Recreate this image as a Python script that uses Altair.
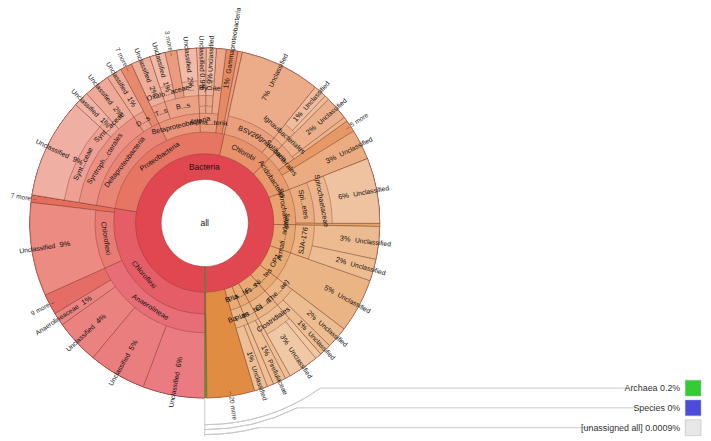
import math
import colorsys
import altair as alt
import pandas as pd

# ---------------- data (percent of all reads; None = inner node) ----------------
TOP = [
    ("bac", "all", "Bacteria", None),
    ("arc", "all", "Archaea", 0.2),
]
CHLOROFLEXI = [
    ("chl", "bac", "Chloroflexi", None),
    ("ana", "chl", "Anaerolineae", None),
    ("ana_u1", "ana", "Unclassified", 5.7),
    ("ana_u2", "ana", "Unclassified", 5.3),
    ("ana_u3", "ana", "Unclassified", 4.1),
    ("ana_f", "ana", "Anaerolineaceae", 1.2),
    ("ana_m", "ana", "9 more", 1.9),
    ("chc", "chl", "Chloroflexi", None),
    ("chc_u", "chc", "Unclassified", 8.6),
    ("chl_m", "chl", "7 more", 0.7),
]
PROTEOBACTERIA = [
    ("pro", "bac", "Proteobacteria", None),
    ("del", "pro", "Deltaproteobacteria", None),
    ("syo", "del", "Syntroph...cterales", None),
    ("syf", "syo", "Synt...ceae", None),
    ("syf_u", "syf", "Unclassified", 9.2),
    ("syr", "syo", "Synt...aceae", None),
    ("syr_u", "syr", "Unclassified", 1.4),
    ("syo_u", "syo", "Unclassified", 2.4),
    ("dss", "del", "D...s", None),
    ("dss_u", "dss", "Unclassified", 1.4),
    ("del_m", "del", "7 more", 1.1),
    ("bet", "pro", "Betaproteobacteria", None),
    ("tss", "bet", "T...s", None),
    ("tss_u", "tss", "Unclassified", 1.8),
    ("bss", "bet", "B...s", None),
    ("oxa", "bss", "Oxalo...aceae", None),
    ("oxa_u", "oxa", "Unclassified", 1.4),
    ("bss_m", "bss", "3 more", 1.1),
    ("bdd", "bss", "...", None),
    ("bdd_u", "bdd", "Unclassified", 1.8),
    ("alp", "pro", "Alpha...teria", None),
    ("add", "alp", "...", None),
    ("add_u", "add", "Unclassified", 0.9),
    ("hyo", "alp", "...", None),
    ("hyf", "hyo", "Hy...ae", None),
    ("hyf_u", "hyf", "Unclassified", 0.9),
    ("alp_s", "alp", "", 0.9),
    ("gam", "pro", "Gammaproteobacteria", 1.1),
    ("pro_s", "pro", "", 0.4),
]
CHLOROBI = [
    ("cbi", "bac", "Chlorobi", None),
    ("bsv", "cbi", "BSV26", None),
    ("bsv_u", "bsv", "Unclassified", 7.4),
    ("ign", "cbi", "Ignav...teria", None),
    ("igo", "ign", "Ignavibacteriales", None),
    ("igo_u", "igo", "Unclassified", 1.2),
    ("igo_s", "igo", "", 0.4),
]
ACIDOBACTERIA = [
    ("aci", "bac", "Acidobacteria", None),
    ("sol", "aci", "Solibacterales", None),
    ("sol_u", "sol", "Unclassified", 2.2),
    ("sol_s", "sol", "", 0.4),
    ("aci_m", "aci", "5 more", 1.1),
    ("aci_u", "aci", "Unclassified", 2.8),
]
SPIROCHAETES = [
    ("spi", "bac", "Spirochaetes", None),
    ("spc", "spi", "Spi...etes", None),
    ("spf", "spc", "Spirochaetaceae", None),
    ("spf_u", "spf", "Unclassified", 6.0),
    ("spi_s", "spi", "", 0.3),
]
ARMATIMONADETES = [
    ("arm", "bac", "Armati...adetes", None),
    ("sja", "arm", "SJA-176", None),
    ("sja_u1", "sja", "Unclassified", 3.0),
    ("sja_u2", "sja", "Unclassified", 2.0),
]
OP1 = [
    ("op1", "bac", "OP1", None),
    ("op1_u", "op1", "Unclassified", 5.0),
]
NITROSPIRAE = [
    ("nit", "bac", "Ni...tes", None),
    ("the", "nit", "The...ae)", None),
    ("the_u1", "the", "Unclassified", 2.0),
    ("the_u2", "the", "Unclassified", 1.1),
]
FIRMICUTES = [
    ("fir", "bac", "F...s", None),
    ("cla", "fir", "Cl...a", None),
    ("clo", "cla", "Clostridiales", None),
    ("clo_s", "clo", "", 0.6),
    ("clo_u", "clo", "Unclassified", 2.8),
]
PLANCTOMYCETES = [
    ("pla", "bac", "Pla...tes", None),
    ("plc", "pla", "Plan...tes", None),
    ("plc_s", "plc", "", 0.5),
    ("pir", "plc", "Pirellulaceae", 1.2),
]
BACTEROIDETES = [
    ("bct", "bac", "B...s", None),
    ("bcc", "bct", "Ba...es", None),
    ("bcc_s", "bcc", "", 0.6),
    ("bcc_u", "bcc", "Unclassified", 1.2),
]
OTHERS = [
    ("more20", "bac", "20 more", 4.4),
]
HATCHED = ["ana_m", "chl_m", "del_m", "bss_m", "gam", "aci_m", "spi_s", "more20"]

KEY_NAMES = ["Archaea", "Species", "[unassigned all]"]
KEY_PCTS = ["0.2%", "0%", "0.0009%"]
KEY_COLORS = ["#33cc33", "#4b4bdc", "#e8e8e8"]

# ---------------- geometry / style constants ----------------
START = 180.0
RING = [0, 44, 70, 92, 111, 129, 144, 158, 170]
OUTER = 177
CX, CY = 199, 215
W, H = 2 * CX, 2 * CY
FONT = "Liberation Sans"
LIGHT = {1: 0.58, 2: 0.63, 3: 0.67, 4: 0.70, 5: 0.74, 6: 0.77, 7: 0.80}

TREE = (TOP + CHLOROFLEXI + PROTEOBACTERIA + CHLOROBI + ACIDOBACTERIA + SPIROCHAETES
        + ARMATIMONADETES + OP1 + NITROSPIRAE + FIRMICUTES + PLANCTOMYCETES
        + BACTEROIDETES + OTHERS)

children, info = {}, {}
for nid, par, lab, val in TREE:
    children.setdefault(par, []).append(nid)
    info[nid] = (par, lab, val)


def total(n):
    if n in info and info[n][2] is not None:
        return info[n][2]
    return sum(total(c) for c in children.get(n, []))


GRAND = total("all")
rows = []


def layout(n, a0, depth):
    a = a0
    for c in children.get(n, []):
        span = total(c) / GRAND * 360.0
        rows.append(dict(id=c, depth=depth, t0=a, t1=a + span, label=info[c][1],
                         leaf=info[c][2] is not None, pct=total(c)))
        layout(c, a, depth + 1)
        a += span


layout("all", START, 1)


def hexcol(h, l, s):
    r, g, b = colorsys.hls_to_rgb((h % 360) / 360.0, max(0, min(1, l)), s)
    return "#%02x%02x%02x" % (round(r * 255), round(g * 255), round(b * 255))


for r in rows:
    ang = (r["t0"] + r["t1"]) / 2 if r["leaf"] else r["t0"] + 0.5
    t = min(max((ang - START) / 360.0, 0), 1)
    hue = -4 + min(t / 0.75, 1) * 32
    L = LIGHT[r["depth"]] + 0.06 * t
    if r["id"] in HATCHED:
        L -= 0.12 if r["id"] == "more20" else 0.06
    r["color"] = "#33cc33" if r["id"] == "arc" else hexcol(hue, L, 0.72)
    r["r0"] = RING[r["depth"]]
    r["r1"] = OUTER

arcs_df = pd.DataFrame(rows).sort_values("depth", kind="stable")


def pct_text(p):
    return f"{round(p)}%" if p >= 0.95 else f"{p:.1g}%"


inner, top_lbl, pcts, name_r, name_l, more_r, more_l = [], [], [], [], [], [], []
top_lbl.append(dict(th=0, r=0, ang=0, text="all"))
for r in rows:
    mid = (r["t0"] + r["t1"]) / 2
    m = mid % 360
    d = r["depth"]
    if not r["leaf"]:
        if r["label"]:
            a = m if (m <= 90 or m >= 270) else m - 180
            row = dict(th=mid, r=(RING[d] + RING[d + 1]) / 2, ang=a % 360, text=r["label"])
            (top_lbl if d == 1 else inner).append(row)
        continue
    if r["id"] == "arc" or not r["label"]:
        continue
    ra = (m - 90) if m < 180 else (m - 270)
    if "more" in r["label"]:
        if m < 180:
            more_r.append(dict(th=mid, r=172, ang=ra % 360, text="– " + r["label"]))
        else:
            more_l.append(dict(th=mid, r=172, ang=ra % 360, text=r["label"] + " –"))
        continue
    pcts.append(dict(th=mid, r=143, ang=ra % 360, text=pct_text(r["pct"])))
    (name_r if m < 180 else name_l).append(dict(th=mid, r=153, ang=ra % 360, text=r["label"]))

theta_scale = alt.Scale(domain=[0, 360], range=[0, 2 * math.pi])
rad_scale = alt.Scale(type="linear", domain=[0, OUTER], range=[0, OUTER])

arcs = alt.Chart(arcs_df).mark_arc(stroke="#6e3427", strokeWidth=0.6, strokeOpacity=0.6).encode(
    theta=alt.Theta("t0:Q", scale=theta_scale, stack=False),
    theta2="t1:Q",
    radius=alt.Radius("r1:Q", scale=rad_scale),
    radius2="r0:Q",
    fill=alt.Fill("color:N", scale=None),
)


def text_layer(data, align, size=7.5, color="#111"):
    return alt.Chart(pd.DataFrame(data)).mark_text(
        align=align, baseline="middle", font=FONT, fontSize=size, color=color
    ).encode(
        theta=alt.Theta("th:Q", scale=theta_scale, stack=False),
        radius=alt.Radius("r:Q", scale=rad_scale),
        angle=alt.Angle("ang:Q", scale=None),
        text="text:N",
    )


layers = [arcs,
          text_layer(top_lbl, "center", size=8.5),
          text_layer(inner, "center", size=7.2),
          text_layer(pcts, "center"),
          text_layer(name_r, "left", size=6.8),
          text_layer(name_l, "right", size=6.8),
          text_layer(more_r, "left", size=6.6, color="#333"),
          text_layer(more_l, "right", size=6.6, color="#333")]

# key connectors
KEY_R = [204, 209, 214]
KEY_Y = [382, 402, 422]
KEY_LINE_END = [627, 635, 590]
conn_arc_rows, conn_rule_rows = [], []
for kr, ky, ke in zip(KEY_R, KEY_Y, KEY_LINE_END):
    th = math.degrees(math.acos((CY - ky) / kr))
    conn_arc_rows.append(dict(t0=th, t1=180, r=kr))
    conn_rule_rows.append(dict(x=CX + kr * math.sin(math.radians(th)), x2=ke, y=ky))

conn_arcs = alt.Chart(pd.DataFrame(conn_arc_rows)).mark_arc(
    fillOpacity=0, stroke="#c8c8c8", strokeWidth=1
).encode(
    theta=alt.Theta("t0:Q", scale=theta_scale, stack=False),
    theta2="t1:Q",
    radius=alt.Radius("r:Q", scale=rad_scale),
    radius2="r:Q",
)
conn_rules = alt.Chart(pd.DataFrame(conn_rule_rows)).mark_rule(color="#c8c8c8", strokeWidth=1).encode(
    x=alt.X("x:Q", scale=None), x2="x2:Q", y=alt.Y("y:Q", scale=None)
)
vert = alt.Chart(pd.DataFrame({"y": [CY + OUTER], "y2": [CY + max(KEY_R) + 2]})).mark_rule(
    color="#c8c8c8", strokeWidth=1
).encode(x=alt.value(CX), y=alt.Y("y:Q", scale=None), y2="y2:Q")

key_df = pd.DataFrame({"name": KEY_NAMES, "pct": KEY_PCTS, "color": KEY_COLORS,
                       "label": [f"{n}   {p}" for n, p in zip(KEY_NAMES, KEY_PCTS)],
                       "y": KEY_Y})
key_sq = alt.Chart(key_df).mark_square(size=256, opacity=1, stroke="#b0b0b0", strokeWidth=0.5).encode(
    x=alt.value(693), y=alt.Y("y:Q", scale=None), fill=alt.Fill("color:N", scale=None)
)
key_tx = alt.Chart(key_df).mark_text(align="right", baseline="middle", font=FONT, fontSize=9,
                                     color="#333").encode(
    x=alt.value(680), y=alt.Y("y:Q", scale=None), text="label:N"
)

chart = alt.layer(*layers, conn_arcs, conn_rules, vert, key_sq, key_tx).properties(
    width=W, height=H,
    padding={"left": 0, "top": 0, "right": 305, "bottom": 3},
    autosize=alt.AutoSizeParams(type="none"),
).configure_view(strokeWidth=0)

chart.save("out.html", embed_options={"renderer": "svg", "actions": False})
